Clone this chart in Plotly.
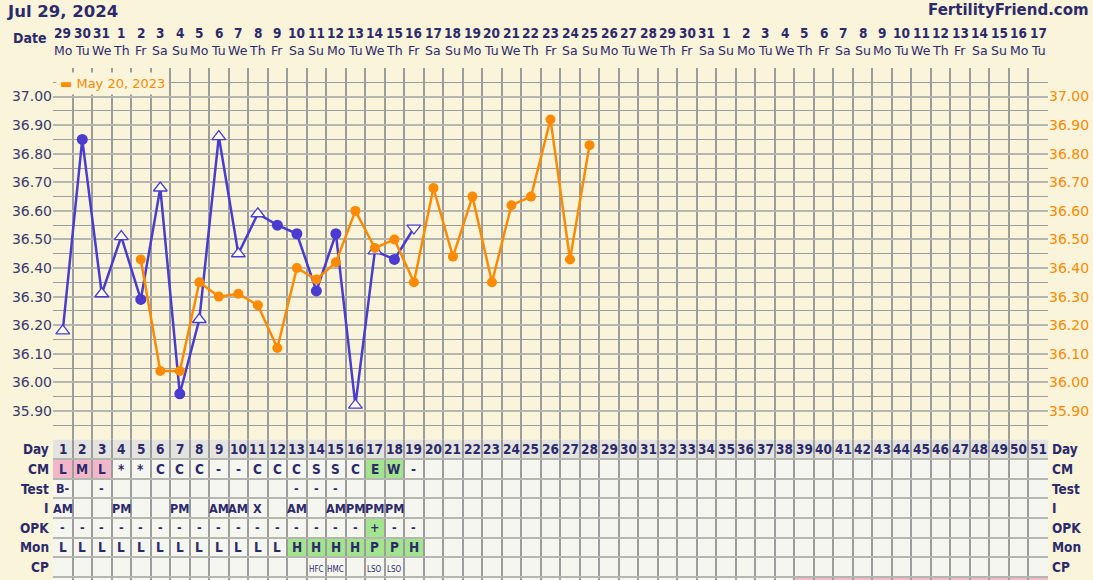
import plotly.graph_objects as go
import pandas as pd

# ---------------- data ----------------
cycle_start = "2024-07-29"
n_days = 51
days = list(range(1, n_days + 1))
dates = pd.date_range(cycle_start, periods=n_days)
date_nums = [str(d.day) for d in dates]
weekdays = [d.strftime("%a")[:2] for d in dates]

blue_days = list(range(1, 20))
blue_temps = [36.18, 36.85, 36.31, 36.51, 36.29, 36.68, 35.96, 36.22, 36.86, 36.45,
              36.59, 36.55, 36.52, 36.32, 36.52, 35.92, 36.46, 36.43, 36.54]
blue_marks = ["tri", "dot", "tri", "tri", "dot", "tri", "dot", "tri", "tri", "tri",
              "tri", "dot", "dot", "dot", "dot", "tri", "tri", "dot", "tridown"]

overlay_name = "May 20, 2023"
overlay_days = list(range(5, 29))
overlay_temps = [36.43, 36.04, 36.04, 36.35, 36.30, 36.31, 36.27, 36.12, 36.40, 36.36,
                 36.42, 36.60, 36.47, 36.50, 36.35, 36.68, 36.44, 36.65, 36.35, 36.62,
                 36.65, 36.92, 36.43, 36.83]

temp_ticks = [35.90, 36.00, 36.10, 36.20, 36.30, 36.40, 36.50, 36.60, 36.70, 36.80, 36.90, 37.00]

row_labels = ["Day", "CM", "Test", "I", "OPK", "Mon", "CP"]
cm_vals = ["L", "M", "L", "*", "*", "C", "C", "C", "-", "-", "C", "C", "C", "S", "S", "C", "E", "W", "-"]
cm_pink = [1, 2, 3]
cm_green = [17, 18]
test_vals = {1: "B-", 3: "-", 13: "-", 14: "-", 15: "-"}
i_vals = {1: "AM", 4: "PM", 7: "PM", 9: "AM", 10: "AM", 11: "X", 13: "AM",
          15: "AM", 16: "PM", 17: "PM", 18: "PM"}
opk_vals = ["-"] * 16 + ["+", "-", "-"]
opk_green = [17]
mon_vals = ["L"] * 12 + ["H", "H", "H", "H", "P", "P", "H"]
mon_green = [13, 14, 15, 16, 17, 18, 19]
cp_vals = {14: "HFC", 15: "HMC", 17: "LSO", 18: "LSO"}
last_row_pink = list(range(39, 52))

# ---------------- style ----------------
BG = "#f9f4da"
NAVY = "#2d2a6b"
BLUE = "#4a3ccf"
ORANGE = "#ff8a00"
GRID_MAJ = "#b6b6b0"
GRID_MIN = "#9c9c9c"
CELL = "#f6f6f0"
DAYROW = "#e3e3df"
PINK = "#f2b8ca"
GREEN = "#a3e48f"
FONT = "DejaVu Sans"
BFONT = "DejaVu Sans Condensed, DejaVu Sans"

H = 580
TOP = 68
PLOT_H = H - TOP
TABLE_TOP_PX = 439.5
table_frac = (H - TABLE_TOP_PX) / PLOT_H
ROW_PX = 19.6
n_rows_visible = (H - TABLE_TOP_PX) / ROW_PX

fig = go.Figure()

# line for the current cycle
fig.add_trace(go.Scatter(
    x=blue_days, y=blue_temps, mode="lines", showlegend=False, hoverinfo="skip",
    line=dict(color=BLUE, width=2.5), xaxis="x", yaxis="y"))

sym_map = {"dot": "circle", "tri": "triangle-up", "tridown": "triangle-down"}
for kind in ["dot", "tri", "tridown"]:
    xs = [d for d, m in zip(blue_days, blue_marks) if m == kind]
    ys = [t for t, m in zip(blue_temps, blue_marks) if m == kind]
    fig.add_trace(go.Scatter(
        x=xs, y=ys, mode="markers", showlegend=False, opacity=1,
        marker=dict(symbol=sym_map[kind], color=BLUE if kind == "dot" else "white",
                    size=11 if kind == "dot" else 12, opacity=1,
                    line=dict(color=BLUE, width=0 if kind == "dot" else 1.3)),
        xaxis="x", yaxis="y"))

fig.add_trace(go.Scatter(
    x=overlay_days, y=overlay_temps, mode="lines+markers", showlegend=False,
    line=dict(color=ORANGE, width=2.5),
    marker=dict(symbol="circle", color=ORANGE, size=10, opacity=1),
    xaxis="x", yaxis="y3"))

shapes = []
annotations = []

# table backgrounds
shapes.append(dict(type="rect", xref="x", yref="y2", x0=0.5, x1=51.5, y0=1, y1=9,
                   fillcolor=CELL, line=dict(width=0), layer="below"))
shapes.append(dict(type="rect", xref="x", yref="y2", x0=0.5, x1=51.5, y0=0, y1=1,
                   fillcolor=DAYROW, line=dict(width=0), layer="below"))


def cell(day, row, color):
    shapes.append(dict(type="rect", xref="x", yref="y2", x0=day - 0.5, x1=day + 0.5,
                       y0=row, y1=row + 1, fillcolor=color, line=dict(width=0), layer="below"))


for d in cm_pink:
    cell(d, 1, PINK)
for d in cm_green:
    cell(d, 1, GREEN)
for d in opk_green:
    cell(d, 4, GREEN)
for d in mon_green:
    cell(d, 5, GREEN)
for d in last_row_pink:
    cell(d, 7, PINK)


def txt(day, row, s, size=13, bold=True, dy=0.5):
    annotations.append(dict(x=day, y=row + dy, xref="x", yref="y2", text=(f"<b>{s}</b>" if bold else s),
                            showarrow=False, font=dict(family=BFONT, size=size, color=NAVY),
                            xanchor="center", yanchor="middle"))


for d in days:
    txt(d, 0, str(d), size=13.5)
for d, v in zip(blue_days, cm_vals):
    txt(d, 1, v, size=13.5)
for d, v in test_vals.items():
    txt(d, 2, v, size=12.5)
for d, v in i_vals.items():
    txt(d, 3, v, size=12.5)
for d, v in zip(blue_days, opk_vals):
    txt(d, 4, v, size=12.5)
for d, v in zip(blue_days, mon_vals):
    txt(d, 5, v, size=13.5)
for d, v in cp_vals.items():
    txt(d, 6, v, size=8, bold=False, dy=0.62)

for r, lab in enumerate(row_labels):
    annotations.append(dict(x=-0.002, y=r + 0.5, xref="paper", yref="y2", text=f"<b>{lab}</b>",
                            showarrow=False, xanchor="right", yanchor="middle",
                            font=dict(family=BFONT, size=13.5, color=NAVY)))
    annotations.append(dict(x=1.002, y=r + 0.5, xref="paper", yref="y2", text=f"<b>{lab}</b>",
                            showarrow=False, xanchor="left", yanchor="middle",
                            font=dict(family=BFONT, size=13.5, color=NAVY)))

# date header
for d, dn, wd in zip(days, date_nums, weekdays):
    annotations.append(dict(x=d, y=1 + (TOP - 33) / PLOT_H, xref="x", yref="paper", text=f"<b>{dn}</b>",
                            showarrow=False, xanchor="center", yanchor="middle",
                            font=dict(family=BFONT, size=13.5, color=NAVY)))
    annotations.append(dict(x=d, y=1 + (TOP - 50) / PLOT_H, xref="x", yref="paper", text=wd,
                            showarrow=False, xanchor="center", yanchor="middle",
                            font=dict(family=FONT, size=12.5, color=NAVY)))
annotations.append(dict(x=-0.004, y=1 + (TOP - 38) / PLOT_H, xref="paper", yref="paper", text="<b>Date</b>",
                        showarrow=False, xanchor="right", yanchor="middle",
                        font=dict(family=BFONT, size=14, color=NAVY)))
annotations.append(dict(x=(5 - 53) / 995, y=1 + (TOP - 11) / PLOT_H, xref="paper", yref="paper",
                        text="<b>Jul 29, 2024</b>", showarrow=False, xanchor="left", yanchor="middle",
                        font=dict(family=FONT, size=16.5, color=NAVY)))
annotations.append(dict(x=(1091 - 53) / 995, y=1 + (TOP - 10) / PLOT_H, xref="paper", yref="paper",
                        text="<b>FertilityFriend.com</b>", showarrow=False, xanchor="right", yanchor="middle",
                        font=dict(family=FONT, size=15, color=NAVY)))
# legend box
annotations.append(dict(x=(56 - 53) / 995, y=1 - (83 - TOP) / PLOT_H, xref="paper", yref="paper",
                        text=f"<span style='font-size:13px'>▬</span> {overlay_name}", showarrow=False,
                        xanchor="left", yanchor="middle", bgcolor=BG, borderpad=3,
                        font=dict(family=FONT, size=13, color=ORANGE)))

fig.update_layout(
    width=1093, height=H,
    margin=dict(l=53, r=45, t=TOP, b=0, pad=0),
    paper_bgcolor=BG, plot_bgcolor=BG,
    font=dict(family=FONT, color=NAVY),
    showlegend=False,
    xaxis=dict(range=[0.5, 51.5], tickvals=[d + 0.5 for d in range(0, 52)], showticklabels=False,
               showgrid=True, gridcolor=GRID_MIN, gridwidth=1.5, zeroline=False, showline=False,
               anchor="y2", ticks=""),
    yaxis=dict(domain=[table_frac, 1], range=[35.80, 37.10], tickvals=temp_ticks,
               tickformat=".2f", showgrid=True, gridcolor=GRID_MAJ, gridwidth=2, zeroline=False,
               minor=dict(tickvals=[35.85 + 0.1 * k for k in range(13)], showgrid=True,
                          gridcolor=GRID_MIN, gridwidth=1),
               tickfont=dict(family=FONT, size=14, color="#3b3a6e"), ticks="", showline=False),
    yaxis3=dict(overlaying="y", side="right", range=[35.80, 37.10], tickvals=temp_ticks,
                tickformat=".2f", showgrid=False, zeroline=False, ticks="",
                tickfont=dict(family=FONT, size=14, color=ORANGE)),
    yaxis2=dict(domain=[0, table_frac], range=[n_rows_visible, 0], tickvals=list(range(0, 9)),
                showticklabels=False, showgrid=True, gridcolor=GRID_MAJ, gridwidth=2,
                zeroline=False, ticks=""),
    shapes=shapes,
    annotations=annotations,
)

fig.write_html("out.html", config={"displayModeBar": False},
               post_script="document.body.style.margin='0';document.body.style.overflow='hidden';")
